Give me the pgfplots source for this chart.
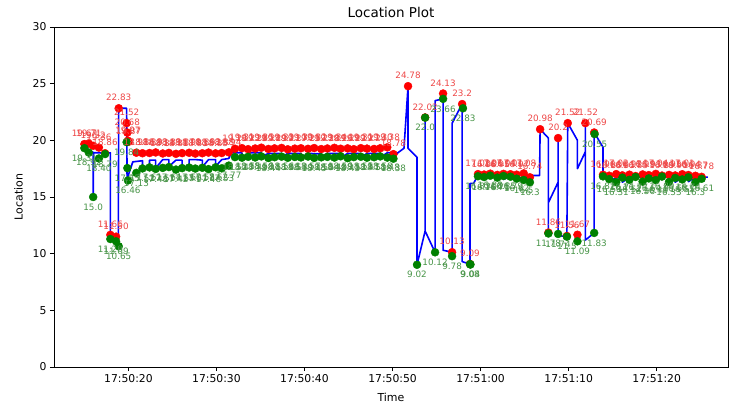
\documentclass[border=0pt]{standalone}
\usepackage{fontspec}
\setmainfont{DejaVu Sans}
\usepackage{pgfplots}
\usepackage{pgfplotstable}
\pgfplotsset{compat=1.18}

\definecolor{dotred}{RGB}{255,0,0}
\definecolor{dotgreen}{RGB}{0,128,0}
\definecolor{txtred}{RGB}{238,72,72}
\definecolor{txtgreen}{RGB}{72,148,72}
\definecolor{pathblue}{RGB}{0,0,255}

% time in seconds after 17:50:00, location value
\pgfplotstableread{
t v
15.0 19.67
15.5 19.71
16.0 19.52
16.65 19.36
17.35 18.86
17.95 11.66
18.6 11.50
18.9 22.83
19.8 21.52
19.88 20.68
19.95 19.97
20.02 19.87
20.9 18.91
21.6 18.86
22.4 18.88
23.1 18.93
23.9 18.84
24.6 18.89
25.4 18.81
26.1 18.87
26.9 18.90
27.6 18.83
28.4 18.86
29.1 18.92
29.9 18.85
30.6 18.88
31.4 18.94
32.1 19.26
32.9 19.31
33.6 19.22
34.4 19.28
35.1 19.35
35.9 19.24
36.6 19.29
37.4 19.33
38.1 19.21
38.9 19.27
39.6 19.30
40.4 19.25
41.1 19.32
41.9 19.23
42.6 19.28
43.4 19.34
44.1 19.26
44.9 19.29
45.6 19.22
46.4 19.31
47.1 19.27
47.9 19.24
48.6 19.30
49.4 19.38
50.1 18.78
51.76 24.78
53.7 22.02
55.74 24.13
56.76 10.13
57.9 23.2
58.8 9.09
59.7 17.02
60.4 16.98
61.1 17.06
61.9 16.95
62.6 17.04
63.4 17.01
64.1 16.97
64.9 17.08
65.6 16.74
66.76 20.98
67.7 11.86
68.8 20.2
69.8 11.56
69.9 21.52
71.0 11.67
71.9 21.52
72.9 20.69
73.9 16.96
74.6 16.88
75.4 17.02
76.1 16.91
76.9 16.97
77.6 16.85
78.4 16.99
79.1 16.93
79.9 17.04
80.6 16.89
81.4 16.95
82.1 16.90
82.9 17.01
83.6 16.94
84.4 16.87
85.1 16.78
}\redpts

\pgfplotstableread{
t v
15.0 19.31
15.5 18.92
16.0 15.0
16.65 18.40
17.35 18.79
17.95 11.29
18.6 11.09
18.9 10.65
19.8 19.84
19.88 17.55
19.95 16.46
20.9 17.13
21.6 17.52
22.4 17.61
23.1 17.48
23.9 17.57
24.6 17.64
25.4 17.42
26.1 17.55
26.9 17.60
27.6 17.51
28.4 17.58
29.1 17.46
29.9 17.62
30.6 17.53
31.4 17.77
32.1 18.52
32.9 18.47
33.6 18.55
34.4 18.49
35.1 18.58
35.9 18.44
36.6 18.51
37.4 18.56
38.1 18.46
38.9 18.53
39.6 18.49
40.4 18.57
41.1 18.45
41.9 18.50
42.6 18.54
43.4 18.48
44.1 18.59
44.9 18.43
45.6 18.52
46.4 18.55
47.1 18.47
47.9 18.51
48.6 18.58
49.4 18.48
50.1 18.38
52.78 9.02
53.7 22.0
54.83 10.12
55.74 23.66
56.76 9.78
58.0 22.83
58.8 9.08
58.85 9.04
59.7 16.83
60.4 16.76
61.1 16.88
61.9 16.71
62.6 16.85
63.4 16.79
64.1 16.62
64.9 16.5
65.6 16.3
67.7 11.78
68.8 11.74
69.8 11.5
71.0 11.09
72.9 11.83
72.95 20.55
73.9 16.82
74.6 16.58
75.4 16.31
76.1 16.71
76.9 16.52
77.6 16.77
78.4 16.36
79.1 16.64
79.9 16.49
80.6 16.80
81.4 16.33
82.1 16.68
82.9 16.55
83.6 16.74
84.4 16.3
85.1 16.61
}\greenpts

\pgfplotstableread{
t v
15.0 19.4
15.5 19.05
16.0 18.95
16.0 15.0
16.05 18.9
16.65 18.9
17.35 18.85
17.95 18.9
17.95 11.3
18.6 11.1
18.85 10.65
18.9 22.83
19.8 22.83
19.85 16.6
20.5 18.1
21.6 18.2
21.6 17.6
22.4 17.7
22.4 18.25
23.1 18.25
23.1 17.55
23.9 18.3
24.6 18.3
24.6 17.7
25.4 18.25
26.1 18.25
26.1 17.6
26.9 17.65
26.9 18.3
27.6 18.3
28.4 18.25
28.4 17.65
29.1 18.3
29.9 18.3
29.9 17.7
30.6 18.3
31.4 18.4
31.7 18.9
32.9 18.9
32.9 18.5
33.6 18.6
33.6 18.9
35.1 18.9
35.1 18.55
35.9 18.85
37.4 18.85
37.4 18.5
38.1 18.85
39.6 18.85
39.6 18.45
40.4 18.85
41.9 18.8
41.9 18.5
42.6 18.85
44.1 18.85
44.1 18.45
44.9 18.85
46.4 18.85
46.4 18.5
47.1 18.85
48.6 18.85
48.6 18.5
49.4 18.9
50.1 18.9
50.1 18.5
50.6 18.9
51.3 19.3
51.76 24.78
51.76 19.3
52.78 18.5
52.78 9.02
53.7 12.0
53.7 22.0
53.7 12.0
54.83 10.12
54.83 23.5
55.74 23.66
55.74 24.13
55.74 10.3
56.76 10.13
56.76 9.78
56.76 21.5
57.9 23.2
57.9 9.3
58.8 9.08
58.8 16.2
59.2 16.2
59.7 16.9
60.4 16.9
60.4 16.6
61.1 16.9
62.6 16.9
62.6 16.55
63.4 16.85
64.1 16.85
64.1 16.5
64.9 16.85
65.6 16.9
66.7 16.9
66.76 20.98
67.7 20.2
67.7 11.8
67.7 14.5
68.8 16.3
68.8 20.2
68.8 11.6
69.8 11.5
69.9 21.52
71.0 20.0
71.0 17.5
71.9 19.0
71.9 21.52
71.9 11.2
72.9 11.83
72.9 20.69
73.9 19.4
73.9 16.8
74.6 16.8
74.6 16.4
75.4 16.7
76.1 16.7
76.1 16.3
76.9 16.75
78.4 16.75
78.4 16.35
79.1 16.7
79.9 16.7
79.9 16.35
80.6 16.75
82.1 16.75
82.1 16.3
82.9 16.75
83.6 16.75
83.6 16.35
84.4 16.75
85.8 16.75
}\bluepath

\begin{document}
\begin{tikzpicture}
\begin{axis}[
  name=ax,
  scale only axis, width=674pt, height=340pt,
  xmin=11.55, xmax=88.1, ymin=0, ymax=30,
  xtick={20,30,40,50,60,70,80},
  xticklabels={17:50:20,17:50:30,17:50:40,17:50:50,17:51:00,17:51:10,17:51:20},
  ytick={0,5,10,15,20,25,30},
  tick pos=left, tick align=outside,
  major tick length=4pt,
  tick style={black, line width=0.8pt},
  axis line style={black, line width=0.8pt},
  ticklabel style={font=\fontsize{10.8}{12}\selectfont},
  /pgf/number format/assume math mode=true,
  xlabel={Time}, ylabel={Location},
  xlabel shift=4pt, ylabel shift=3pt,
  label style={font=\fontsize{11}{13}\selectfont},
  title={Location Plot},
  title style={font=\fontsize{13.5}{15}\selectfont},
]
% scatter dots
\addplot[color=dotred, only marks, mark=*, mark size=4pt]
  table[x=t, y=v] {\redpts};
\addplot[color=dotgreen, only marks, mark=*, mark size=4pt]
  table[x=t, y=v] {\greenpts};
% location path
\addplot[pathblue, line width=1.6pt, mark=none, line join=round] table[x=t, y=v] {\bluepath};
% value annotations
\addplot[draw=none, mark=none, point meta=explicit symbolic,
  nodes near coords,
  every node near coord/.append style={anchor=center, yshift=10.5pt, text=txtred,
    font=\fontsize{8.8}{10}\selectfont, inner sep=0pt}]
  table[x=t, y=v, meta=v] {\redpts};
\addplot[draw=none, mark=none, point meta=explicit symbolic,
  nodes near coords,
  every node near coord/.append style={anchor=center, yshift=-10pt, text=txtgreen,
    font=\fontsize{8.8}{10}\selectfont, inner sep=0pt}]
  table[x=t, y=v, meta=v] {\greenpts};
\end{axis}
\pgfresetboundingbox
\path ([shift={(-54pt,-42pt)}]ax.south west) rectangle ([shift={(3pt,27pt)}]ax.north east);
\end{tikzpicture}
\end{document}
